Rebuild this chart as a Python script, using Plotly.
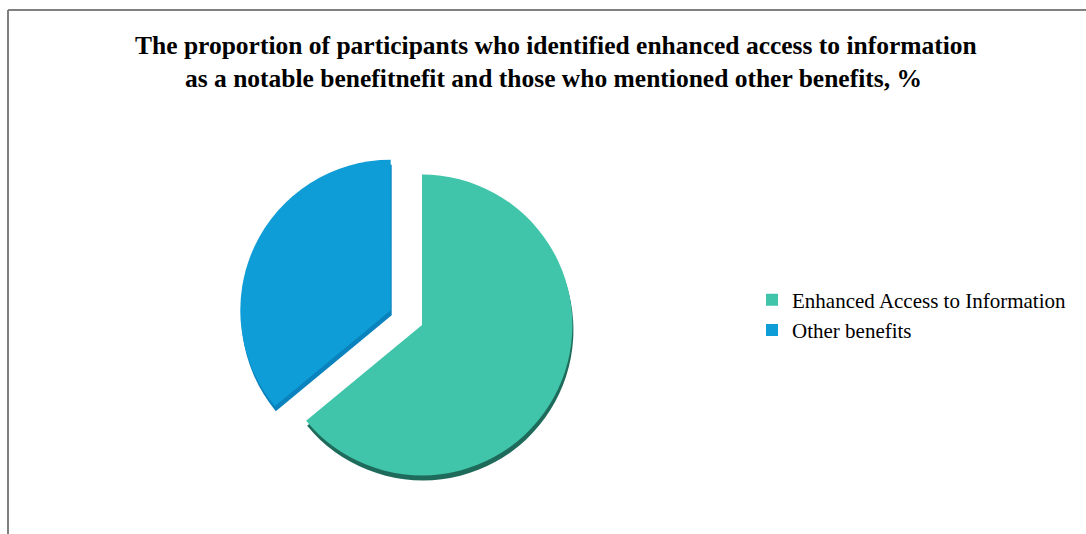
import plotly.graph_objects as go

# Share of participants by reported benefit, %
labels = ["Enhanced Access to Information", "Other benefits"]
values = [64, 36]
pulls = [0, 0.23]

face_colors = ["#40C4AA", "#0E9DD6"]
side_colors = ["#1F6B5B", "#0A82BD"]

W, H = 1086, 534

# pie box in pixels (centre ~ (422, 325), radius ~150)
cx, cy, half = 422, 325, 185
box_l, box_r = cx - half, cx + half
box_t, box_b = cy - half, cy + half
depth = 5  # thickness of the extruded edge, px


def dom(l, r, t, b):
    return dict(x=[l / W, r / W], y=[1 - b / H, 1 - t / H])


fig = go.Figure()

# darker copy drawn first, shifted down, gives the slices a visible edge
fig.add_trace(go.Pie(
    labels=labels, values=values, pull=pulls,
    sort=False, direction="clockwise", rotation=0,
    marker=dict(colors=side_colors, line=dict(width=0)),
    textinfo="none", hoverinfo="skip", showlegend=False,
    domain=dom(box_l + 1, box_r + 1, box_t + depth, box_b + depth),
))

fig.add_trace(go.Pie(
    labels=labels, values=values, pull=pulls,
    sort=False, direction="clockwise", rotation=0,
    marker=dict(colors=face_colors, line=dict(width=0)),
    textinfo="none", showlegend=True,
    domain=dom(box_l, box_r, box_t, box_b),
))

title_font = dict(family="Liberation Serif", size=25.5, color="black")
fig.add_annotation(
    text="<b>The proportion of participants who identified enhanced access to information</b>",
    x=556 / W, y=1 - 46 / H, xref="paper", yref="paper",
    xanchor="center", yanchor="middle", showarrow=False, font=title_font,
)
fig.add_annotation(
    text="<b>as a notable benefitnefit and those who mentioned other benefits, %</b>",
    x=553 / W, y=1 - 78 / H, xref="paper", yref="paper",
    xanchor="center", yanchor="middle", showarrow=False, font=title_font,
)

# chart frame (top and left edges)
frame = dict(color="#808080", width=2)
fig.add_shape(type="line", xref="paper", yref="paper",
              x0=8 / W, x1=1, y0=1 - 10 / H, y1=1 - 10 / H, line=frame)
fig.add_shape(type="line", xref="paper", yref="paper",
              x0=8 / W, x1=8 / W, y0=1 - 10 / H, y1=0, line=frame)

fig.update_layout(
    width=W, height=H,
    margin=dict(l=0, r=0, t=0, b=0),
    paper_bgcolor="white", plot_bgcolor="white",
    legend=dict(
        x=752 / W, xanchor="left", y=1 - 315 / H, yanchor="middle",
        font=dict(family="Liberation Serif", size=21, color="black"),
        itemwidth=30, bgcolor="rgba(0,0,0,0)",
    ),
)

fig.write_html("out.html")
